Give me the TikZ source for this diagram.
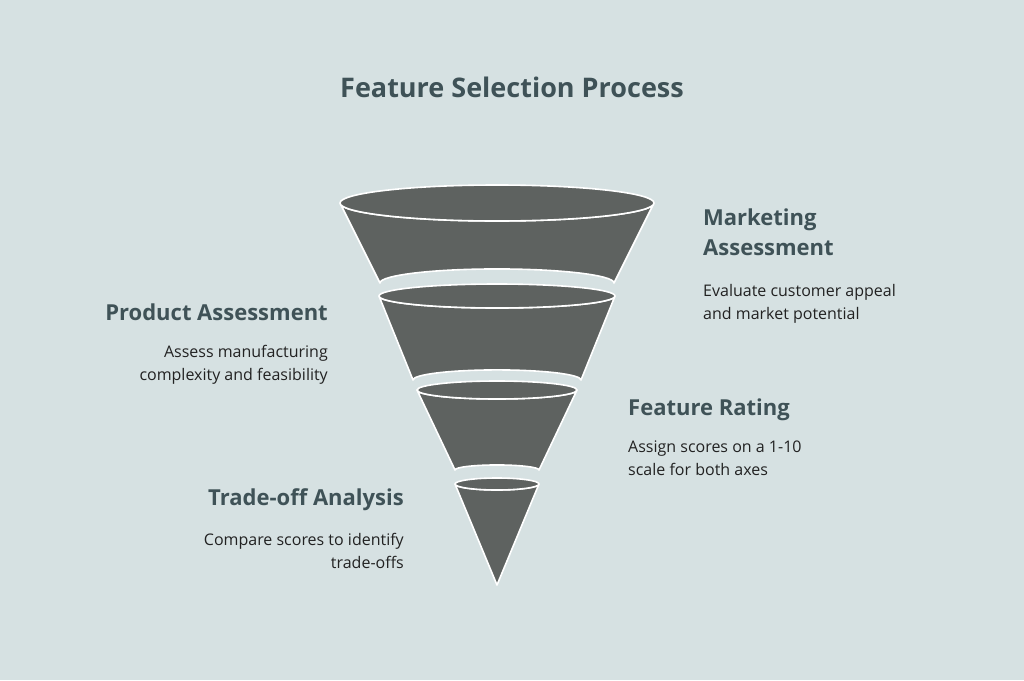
\documentclass[tikz,border=0pt]{standalone}
\usepackage{fontspec}
\setmainfont{Open Sans}
\definecolor{bg}{HTML}{D6E1E2}
\definecolor{funnel}{HTML}{5E6260}
\definecolor{head}{HTML}{3F5257}
\definecolor{body}{HTML}{222222}
\tikzstyle{head}=[text=head,font=\bfseries\fontsize{22}{26}\selectfont,inner sep=0pt]
\tikzstyle{body}=[text=body,font=\fontsize{16}{23}\selectfont,inner sep=0pt]
\tikzstyle{seg}=[fill=funnel,draw=white,line width=1.6pt,line join=round]
\newcommand{\funnelseg}[5]{% top y, top rx, top ry, bottom y, bottom rx
  \draw[seg] (497-#2,#1) -- (497-#5,#4) arc[start angle=180,end angle=360,x radius=#5,y radius=#5*0.12]
    -- (497+#2,#1) arc[start angle=0,end angle=-180,x radius=#2,y radius=-#3] -- cycle;
  \draw[seg] (497,#1) ellipse[x radius=#2,y radius=#3];}
\begin{document}
\begin{tikzpicture}[x=1pt,y=-1pt]
  \fill[bg] (0,0) rectangle (1024,680);
  \useasboundingbox (0,0) rectangle (1024,680);
  \node[head,font=\bfseries\fontsize{27}{32}\selectfont] (title) at (512,87) {Feature Selection Process};
  % funnel, drawn from the tip upward
  \draw[seg] (455,484) -- (497,585) -- (539,484) arc[start angle=0,end angle=-180,x radius=42,y radius=-6] -- cycle;
  \draw[seg] (497,484) ellipse[x radius=42,y radius=6];
  \funnelseg{390}{80}{9}{470}{42}
  \funnelseg{296}{118}{12}{380}{84}
  \funnelseg{203}{157}{18}{283}{117}
  % labels
  \node[head,anchor=north west,align=left,font=\bfseries\fontsize{22}{30}\selectfont] (mkt) at (703,209) {Marketing\\Assessment};
  \node[body,anchor=north west,align=left] (mktb) at (703,284) {Evaluate customer appeal\\and market potential};
  \node[head,anchor=east] (prod) at (328,312) {Product Assessment};
  \node[body,anchor=north east,align=right] (prodb) at (328,345) {Assess manufacturing\\complexity and feasibility};
  \node[head,anchor=west] (rate) at (628,410) {Feature Rating};
  \node[body,anchor=north west,align=left] (rateb) at (628,441) {Assign scores on a 1-10\\scale for both axes};
  \node[head,anchor=east] (trade) at (404,500) {Trade-off Analysis};
  \node[body,anchor=north east,align=right] (tradeb) at (404,533) {Compare scores to identify\\trade-offs};
\end{tikzpicture}
\end{document}
